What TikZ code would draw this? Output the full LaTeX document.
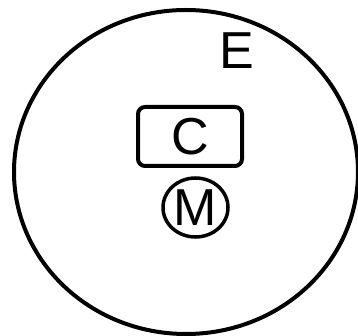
\documentclass[tikz,border=0pt]{standalone}
\usepackage{fontspec}
\setmainfont{Liberation Sans}
\usetikzlibrary{shapes.geometric}
\tikzset{
  lbl/.style={inner sep=0pt, font=\fontsize{52}{60}\selectfont},
  shapeline/.style={draw=black, line width=4pt},
}
\begin{document}
\begin{tikzpicture}[x=1pt, y=-1pt]
\useasboundingbox[fill=white] (0,0) rectangle (358,336);
\node (env) [shapeline, ellipse, inner sep=0pt, minimum width=344, minimum height=324] at (186,172) {};
\node (E) [lbl] at (236.5,51) {E};
\node (C) [lbl, shapeline, rectangle, rounded corners=7pt, minimum width=104, minimum height=59] at (190,136.5) {C};
\node (M) [lbl, shapeline, line width=3.5pt, ellipse, minimum width=65, minimum height=59] at (195.5,207.5) {M};
\end{tikzpicture}
\end{document}
